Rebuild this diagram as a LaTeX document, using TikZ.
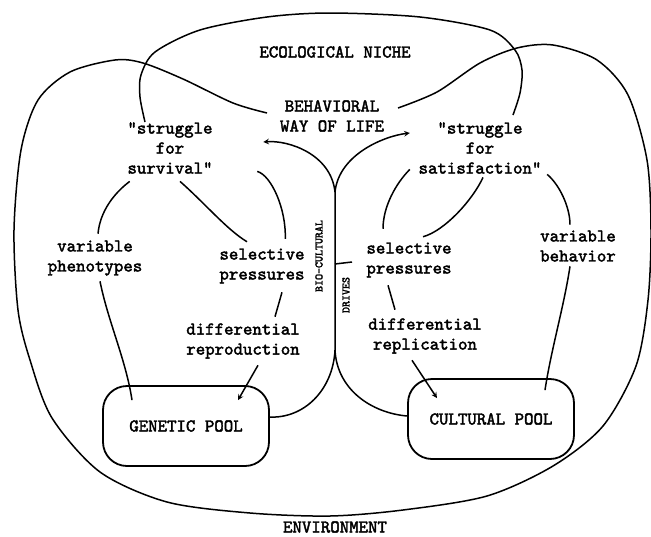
\documentclass[tikz,border=0pt]{standalone}
\usepackage{fontspec}
\setmonofont[FakeBold=2.2]{lmmono10-regular.otf}
\begin{document}
\begin{tikzpicture}[>=stealth,x=1pt,y=-1pt,line width=1.5pt,
	txt/.style={font={\ttfamily\fontsize{18}{20}\selectfont},align=center,inner sep=2pt},
	vert/.style={font={\ttfamily\fontsize{11.4}{12}\selectfont},rotate=90,inner sep=1pt},
	pool/.style={txt,draw,line width=1.8pt,rounded corners=24pt,minimum width=166pt,minimum height=80pt}]
	\useasboundingbox[fill=white] (0,0) rectangle (651,536);
	% labels
	\node[txt] (niche) at (335,52) {ECOLOGICAL NICHE};
	\node[txt] (bwl) at (332,116) {BEHAVIORAL\\WAY OF LIFE};
	\node[txt] (surv) at (170,148) {"struggle\\for\\survival"};
	\node[txt] (satis) at (480,148) {"struggle\\for\\satisfaction"};
	\node[txt] (pheno) at (95,258) {variable\\phenotypes};
	\node[txt] (selL) at (262,266) {selective\\pressures};
	\node[txt] (diffL) at (243,341) {differential\\reproduction};
	\node[txt] (selR) at (409,260) {selective\\pressures};
	\node[txt] (diffR) at (425,336) {differential\\replication};
	\node[txt] (behav) at (578,246) {variable\\behavior};
	\node[pool] (gpool) at (186,426) {GENETIC POOL};
	\node[pool] (cpool) at (491,419) {CULTURAL POOL};
	\node[vert] (biocult) at (319,256) {BIO-CULTURAL};
	\node[vert] (drives) at (346,295) {DRIVES};
	\node[txt] (env) at (335,527) {ENVIRONMENT};
	% niche and environment outlines
	\draw plot[smooth] coordinates {(145,122) (140,97) (141,75) (155,52) (200,30) (267,17) (330,13) (420,17) (490,30) (515,50) (522,70) (520,93) (513,115)};
	\draw plot[smooth] coordinates {(267,113) (233,103) (183,79) (143,63) (115,60) (70,72) (38,100) (21,150) (14,230) (18,310) (30,360) (52,418) (100,472) (167,502) (250,513) (330,516) (403,510) (487,496) (553,466) (603,426) (636,366) (648,300) (651,230) (647,160) (628,95) (597,60) (553,45) (517,48) (480,63) (437,92) (398,108)};
	% left side
	\draw ([shift={(5,5)}]surv.south west) .. controls +(-16,12) and +(2,-22) .. ([shift={(3,-4)}]pheno.north);
	\draw ([shift={(10,5)}]surv.south) .. controls +(25,22) and +(-20,-12) .. ([shift={(-15,-4)}]selL.north);
	\draw ([shift={(42,-5)}]surv.south east) .. controls +(14,4) and +(1,-30) .. ([shift={(-22,-7)}]selL.north east);
	\draw ([shift={(20,6)}]selL.south) -- ([shift={(32,-4)}]diffL.north);
	\draw[->] ([shift={(15,4)}]diffL.south) -- ([shift={(52,15)}]gpool.north);
	\draw ([shift={(5,3)}]pheno.south) .. controls +(8,40) and +(-6,-40) .. ([shift={(-54,15)}]gpool.north);
	% right side
	\draw ([shift={(-6,-7)}]satis.south west) .. controls +(-14,14) and +(0,-22) .. ([shift={(-26,-11)}]selR.north);
	\draw ([shift={(3,1)}]satis.south) .. controls +(-10,22) and +(22,-6) .. ([shift={(14,-3)}]selR.north);
	\draw ([shift={(3,-2)}]satis.south east) .. controls +(12,10) and +(0,-18) .. ([shift={(-8,-3)}]behav.north);
	\draw ([shift={(-21,5)}]selR.south) -- ([shift={(-30,-6)}]diffR.north);
	\draw[->] ([shift={(-13,4)}]diffR.south) -- ([shift={(-54,20)}]cpool.north);
	\draw ([shift={(-8,2)}]behav.south) .. controls +(-6,40) and +(6,-40) .. ([shift={(54,12)}]cpool.north);
	% drives
	\coordinate (fork) at (335,192);
	\coordinate (split) at (335,350);
	\coordinate (tick) at (335,264);
	\draw ([shift={(-1,-9)}]gpool.east) .. controls +(35,2) and +(-2,40) .. (split) -- (fork);
	\draw ([shift={(0,-3)}]cpool.west) .. controls +(-35,-3) and +(2,40) .. (split);
	\draw[->] (fork) .. controls +(-4,-38) and +(25,-2) .. ([shift={(48,-6)}]surv.east);
	\draw[->] (fork) .. controls +(4,-38) and +(-25,3) .. ([shift={(-6,-15)}]satis.west);
	\draw (tick) -- +(17,-2);
\end{tikzpicture}
\end{document}
